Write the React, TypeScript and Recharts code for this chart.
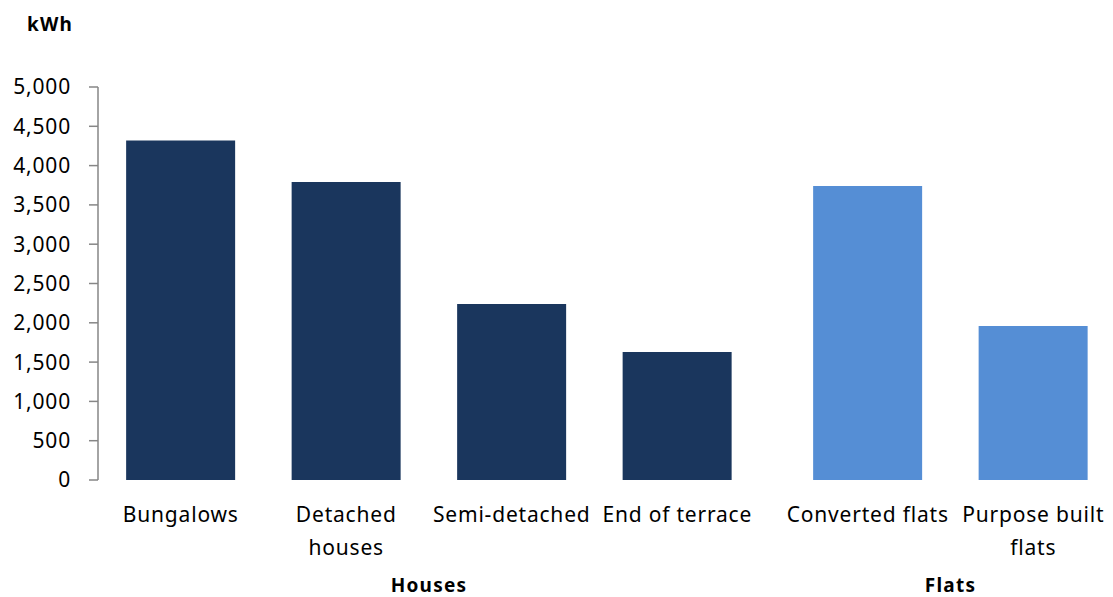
import React from "react";
import { Bar, BarChart, XAxis, YAxis } from "recharts";

// domestic electricity use per dwelling type
const houseCategories = ["Bungalows", "Detached\nhouses", "Semi-detached", "End of terrace"];
const houseValues = [4320, 3790, 2240, 1630];
const flatCategories = ["Converted flats", "Purpose built\nflats"];
const flatValues = [3740, 1960];
const yTicks = [0, 500, 1000, 1500, 2000, 2500, 3000, 3500, 4000, 4500, 5000];
const groupLabels = ["Houses", "Flats"];
const unitLabel = "kWh";

const houseData = houseCategories.map((name, i) => ({ name, value: houseValues[i] }));
const flatData = flatCategories.map((name, i) => ({ name, value: flatValues[i] }));
const houseEdges = houseCategories.map((_, i) => i).concat(houseCategories.length);
const flatEdges = flatCategories.map((_, i) => i).concat(flatCategories.length);

const FONT = "'Noto Sans', sans-serif";
const AXIS = "#868686";
const DARK = "#1a365d";
const LIGHT = "#558ed5";

const CategoryTick = (props: any) => {
  const { x, y, payload } = props;
  const lines = String(payload.value).split("\n");
  return (
    <text
      x={x}
      y={y}
      textAnchor="middle"
      fill="#000"
      fontSize={21}
      letterSpacing={0.8}
      fontFamily={FONT}
    >
      {lines.map((line, i) => (
        <tspan key={i} x={x} dy={i === 0 ? 42 : 33}>
          {line}
        </tspan>
      ))}
    </text>
  );
};

function Group({
  data,
  edges,
  color,
  withYAxis,
  width,
}: {
  data: { name: string; value: number }[];
  edges: number[];
  color: string;
  withYAxis: boolean;
  width: number;
}) {
  return (
    <BarChart
      width={width}
      height={597}
      data={data}
      margin={{ top: 87, right: 0, left: 0, bottom: 0 }}
      barCategoryGap="17%"
    >
      <YAxis
        domain={[0, 5000]}
        ticks={yTicks}
        hide={!withYAxis}
        width={98}
        interval={0}
        tickFormatter={(v) => v.toLocaleString("en-US")}
        tick={{ fill: "#000", fontSize: 21, fontFamily: FONT, letterSpacing: 0.8 }}
        tickSize={9}
        tickMargin={18}
        axisLine={{ stroke: AXIS, strokeWidth: 1.5 }}
        tickLine={{ stroke: AXIS, strokeWidth: 1.5 }}
      />
      <XAxis
        xAxisId="edges"
        type="number"
        domain={[0, edges.length - 1]}
        ticks={edges}
        interval={0}
        height={0}
        tick={false}
        tickSize={8}
        axisLine={{ stroke: AXIS, strokeWidth: 1.5 }}
        tickLine={{ stroke: AXIS, strokeWidth: 1.5 }}
      />
      <XAxis
        xAxisId="cat"
        dataKey="name"
        height={117}
        interval={0}
        axisLine={false}
        tickLine={false}
        tickSize={0}
        tickMargin={0}
        tick={<CategoryTick />}
      />
      <Bar xAxisId="cat" dataKey="value" fill={color} isAnimationActive={false} />
    </BarChart>
  );
}

const bold: React.CSSProperties = {
  position: "absolute",
  fontFamily: FONT,
  fontWeight: 700,
  fontSize: 19,
  letterSpacing: 1.2,
  color: "#000",
  lineHeight: "19px",
};

export default function App() {
  return (
    <div
      style={{
        position: "absolute",
        left: 0,
        top: 0,
        width: 1113,
        height: 597,
        overflow: "hidden",
        background: "#fff",
      }}
    >
      <div style={{ position: "absolute", left: 0, top: 0 }}>
        <Group data={houseData} edges={houseEdges} color={DARK} withYAxis width={760} />
      </div>
      <div style={{ position: "absolute", left: 785, top: 0 }}>
        <Group data={flatData} edges={flatEdges} color={LIGHT} withYAxis={false} width={331} />
      </div>
      <div style={{ ...bold, left: 27, top: 15 }}>{unitLabel}</div>
      <div style={{ ...bold, left: 98, width: 662, top: 576, textAlign: "center" }}>
        {groupLabels[0]}
      </div>
      <div style={{ ...bold, left: 785, width: 331, top: 576, textAlign: "center" }}>
        {groupLabels[1]}
      </div>
    </div>
  );
}
